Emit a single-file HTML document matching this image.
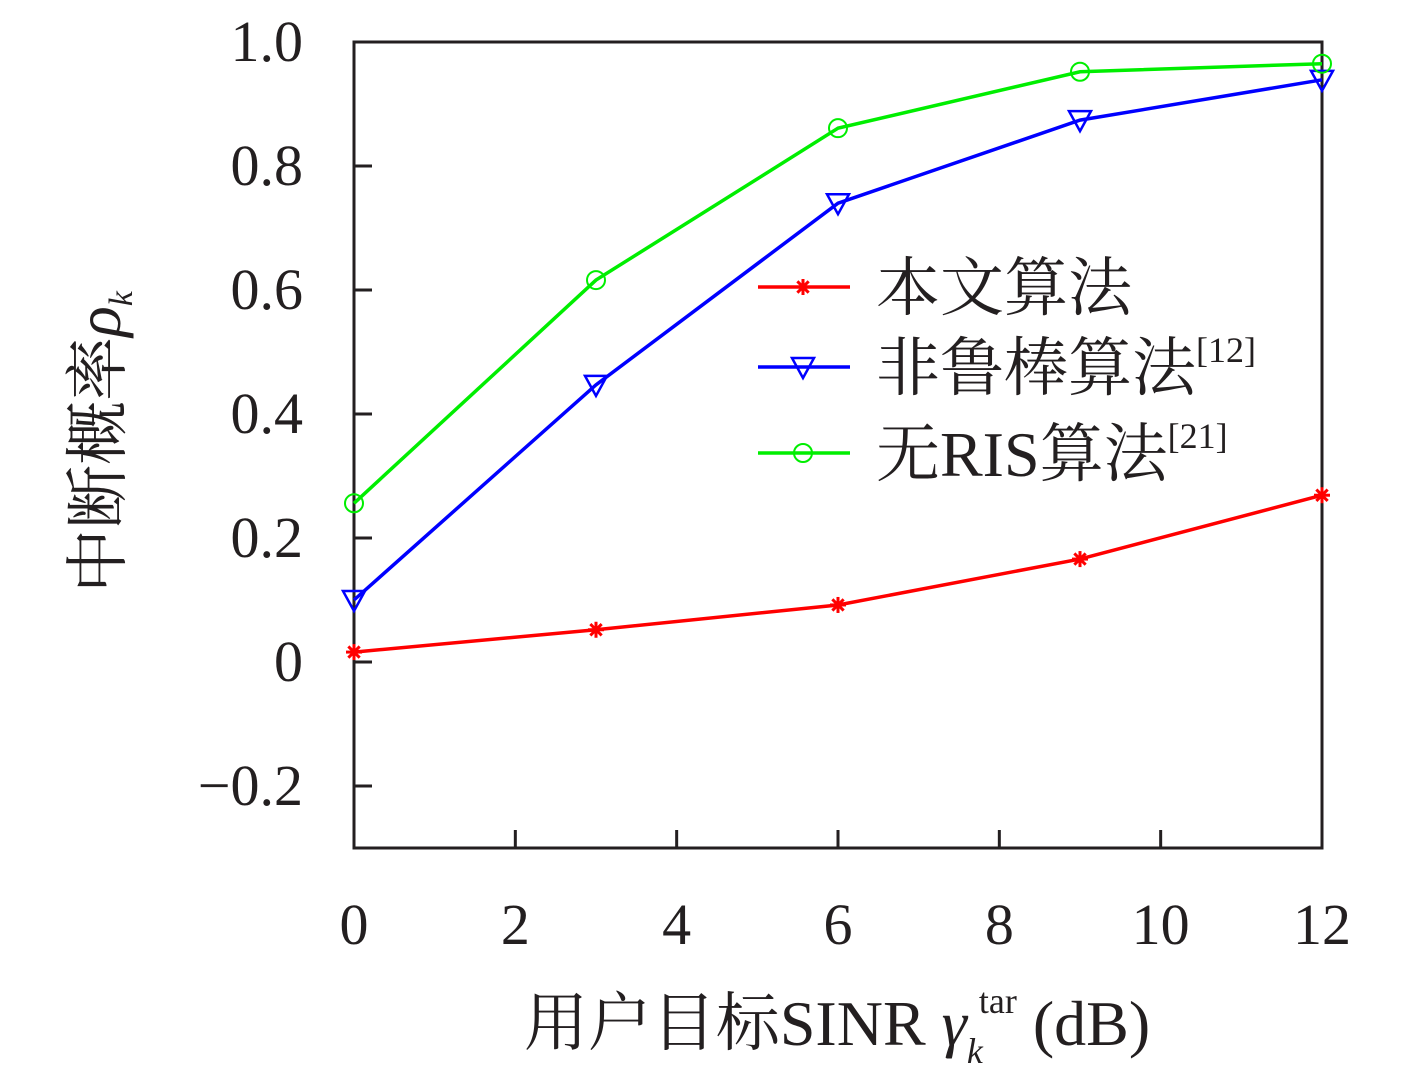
<!DOCTYPE html>
<html><head><meta charset="utf-8"><style>
body{margin:0;background:#fff}
svg text{font-family:"Liberation Serif","Noto Serif CJK SC",serif;fill:#231f20}
</style></head><body>
<svg width="1417" height="1084" viewBox="0 0 1417 1084">
<g id="axes"></g><g id="series"></g>
<text x="837" y="1045" font-size="64" text-anchor="middle">用户目标SINR <tspan font-style="italic">γ</tspan><tspan font-size="36" font-style="italic" dy="18">k</tspan><tspan font-size="36" dx="-4" dy="-50">tar</tspan><tspan dy="32"> (dB)</tspan></text>
<text transform="translate(120,442) rotate(-90)" font-size="64" text-anchor="middle">中断概率<tspan font-style="italic">ρ</tspan><tspan font-size="34" font-style="italic" dy="12">k</tspan></text>
<g id="legend"></g>
</svg>
<script>
const xTicks=[0,2,4,6,8,10,12];
const yTicks=[-0.2,0,0.2,0.4,0.6,0.8,1.0];
const yTickLabels=["−0.2","0","0.2","0.4","0.6","0.8","1.0"];
const xValues=[0,3,6,9,12];
const proposed=[0.016,0.052,0.092,0.166,0.269];
const nonRobust=[0.1,0.447,0.74,0.874,0.939];
const noRis=[0.256,0.616,0.861,0.952,0.965];
const names=["本文算法","非鲁棒算法","无RIS算法"];
const refs=["","[12]","[21]"];
const NS="http://www.w3.org/2000/svg";
const L=354,R=1322,T=42,B=848;
const sx=v=>L+(v-0)/(12-0)*(R-L);
const sy=v=>B-(v-(-0.3))/(1.0-(-0.3))*(B-T);
function mk(tag,attrs,parent){const e=document.createElementNS(NS,tag);for(const k in attrs)e.setAttribute(k,attrs[k]);parent.appendChild(e);return e;}
const ax=document.getElementById('axes');
let fr=mk('rect',{x:L,y:T,width:R-L,height:B-T,fill:'none',stroke:'#231f20','stroke-width':3},ax);


xTicks.forEach(v=>{
 let t=mk('line',{x1:sx(v),x2:sx(v),y1:B,y2:B-18,stroke:'#231f20','stroke-width':3},ax);
 
 
 let l=mk('text',{x:sx(v),y:944,'font-size':58,'text-anchor':'middle'},ax);l.textContent=v;
 
 
});
yTicks.forEach((v,i)=>{
 let t=mk('line',{x1:L,x2:L+18,y1:sy(v),y2:sy(v),stroke:'#231f20','stroke-width':3},ax);
 
 
 let l=mk('text',{x:303,y:sy(v)+19,'font-size':58,'text-anchor':'end'},ax);l.textContent=yTickLabels[i];
 
 
});
function marker(kind,x,y,c,g){
 if(kind==='star'){
  for(let a=0;a<180;a+=45){const r=a*Math.PI/180;mk('line',{x1:x-8*Math.cos(r),y1:y-8*Math.sin(r),x2:x+8*Math.cos(r),y2:y+8*Math.sin(r),stroke:c,'stroke-width':3},g);}
 }else if(kind==='tri'){
  mk('polygon',{points:`${x-11},${y-9} ${x+11},${y-9} ${x},${y+11}`,fill:'none',stroke:c,'stroke-width':2.5},g);
 }else{
  mk('circle',{cx:x,cy:y,r:9,fill:'none',stroke:c,'stroke-width':2},g);
 }
}
const sg=document.getElementById('series');
const series=[[proposed,'#ff0000','star','series-proposed'],[nonRobust,'#0000ff','tri','series-non-robust'],[noRis,'#00ee00','circ','series-no-ris']];
series.forEach(([vals,c,k,n])=>{
 const g=mk('g',{},sg);
 
 
 mk('polyline',{points:vals.map((v,i)=>sx(xValues[i])+','+sy(v)).join(' '),fill:'none',stroke:c,'stroke-width':3.5},g);
 vals.forEach((v,i)=>marker(k,sx(xValues[i]),sy(v),c,g));
});
const lg=document.getElementById('legend');
const ly=[287,367,453];
series.forEach(([vals,c,k],i)=>{
 const g=mk('g',{},lg);
 
 
 mk('line',{x1:758,x2:850,y1:ly[i],y2:ly[i],stroke:c,'stroke-width':3.5},g);
 marker(k,803,ly[i],c,g);
 const t=mk('text',{x:876,y:ly[i]+23,'font-size':64},g);
 t.textContent=names[i];
 if(refs[i]){const s=mk('tspan',{'font-size':36,dy:-28},t);s.textContent=refs[i];}
});
</script>
</body></html>
